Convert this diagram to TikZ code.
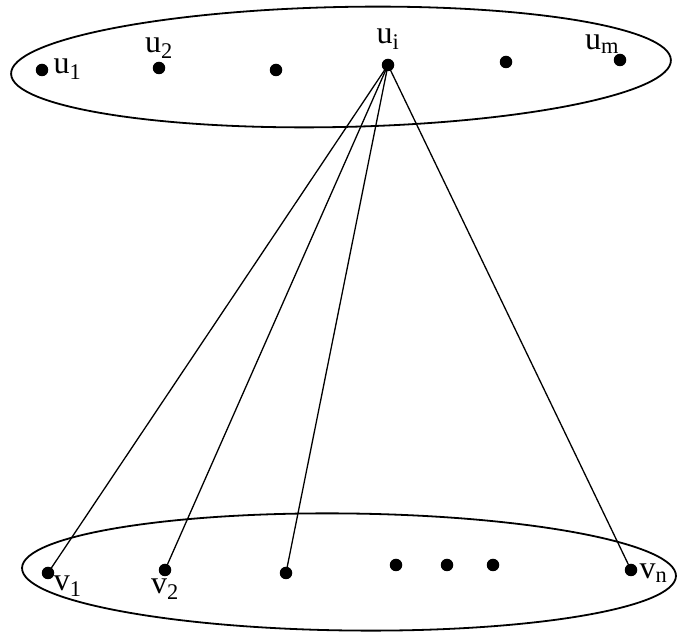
\documentclass[tikz,border=0pt]{standalone}
\usepackage{fontspec}
\setmainfont{Liberation Serif}
\usetikzlibrary{positioning,shapes.geometric}
\tikzset{
  setbox/.style={ellipse, draw=black, line width=1.8pt, inner sep=0pt},
  vtx/.style={circle, fill=black, inner sep=0pt, minimum size=12.5pt},
  lbl/.style={inner sep=0pt, font=\fontsize{32}{32}\selectfont},
  edge/.style={draw=black, line width=1.3pt},
}
\newcommand{\vname}[2]{#1\textsubscript{#2}}

\begin{document}
\begin{tikzpicture}[x=1pt,y=1pt]
  \useasboundingbox (0,0) rectangle (678,634);
  % the two sets
  \node[setbox, minimum width=660pt, minimum height=120pt, rotate=1.2] (U) at (341,567) {};
  \node[setbox, minimum width=654pt, minimum height=117pt, rotate=-0.7] (V) at (349,62) {};
  % upper vertices
  \node[vtx] (u1) at (42,564) {};
  \node[vtx] (u2) at (159,566) {};
  \node[vtx] (u3) at (276,564) {};
  \node[vtx] (ui) at (388,569) {};
  \node[vtx] (u5) at (506,572) {};
  \node[vtx] (um) at (620,574) {};
  % lower vertices
  \node[vtx] (v1) at (48,61) {};
  \node[vtx] (v2) at (165,64) {};
  \node[vtx] (v3) at (286,61) {};
  \node[vtx] (d1) at (396,69) {};
  \node[vtx] (d2) at (447,69) {};
  \node[vtx] (d3) at (493,69) {};
  \node[vtx] (vn) at (631,64) {};
  % labels
  \node[lbl, right=5pt of u1, yshift=1pt] (u1l) {\vname{u}{1}};
  \node[lbl, above=3pt of u2] (u2l) {\vname{u}{2}};
  \node[lbl, above=9pt of ui] (uil) {\vname{u}{i}};
  \node[lbl, above=0pt of um, xshift=-18pt] (uml) {\vname{u}{m}};
  \node[lbl, below right=-2pt and 1pt of v1] (v1l) {\vname{v}{1}};
  \node[lbl, below=2pt of v2] (v2l) {\vname{v}{2}};
  \node[lbl, right=2pt of vn, yshift=-3pt] (vnl) {\vname{v}{n}};
  % edges from u_i
  \foreach \t in {v1,v2,v3,vn}
    \draw[edge] (ui.center) -- (\t.center);
\end{tikzpicture}
\end{document}
